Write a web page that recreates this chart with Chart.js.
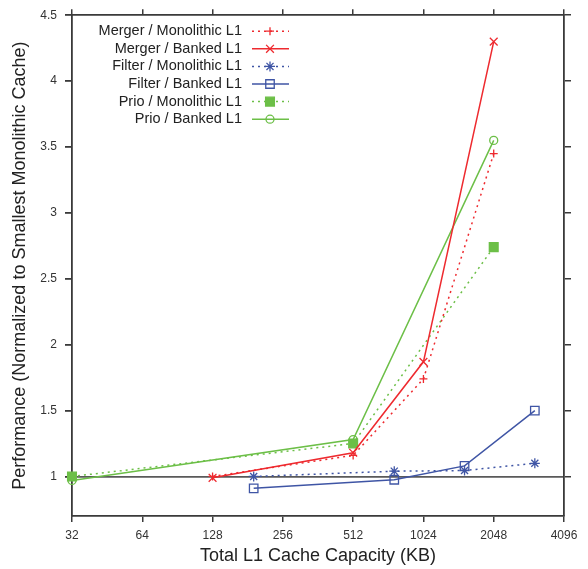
<!DOCTYPE html>
<html><head><meta charset="utf-8">
<script src="https://cdn.jsdelivr.net/npm/chart.js@4/dist/chart.umd.min.js"></script>
<style>html,body{margin:0;padding:0;background:#fff}#wrap{width:588px;height:569px;position:relative}</style>
</head><body><div id="wrap"><canvas id="c"></canvas></div>
<script>
const xTicks = [32, 64, 128, 256, 512, 1024, 2048, 4096];
const yTicks = [1, 1.5, 2, 2.5, 3, 3.5, 4, 4.5];
const seriesNames = ['Merger / Monolithic L1', 'Merger / Banked L1', 'Filter / Monolithic L1', 'Filter / Banked L1', 'Prio / Monolithic L1', 'Prio / Banked L1'];
const mergerMonoX = [128, 512, 1024, 2048];
const mergerMonoY = [1.00, 1.16, 1.74, 3.45];
const mergerBankedX = [128, 512, 1024, 2048];
const mergerBankedY = [0.99, 1.18, 1.87, 4.30];
const filterMonoX = [192, 768, 1536, 3072];
const filterMonoY = [1.00, 1.04, 1.045, 1.10];
const filterBankedX = [192, 768, 1536, 3072];
const filterBankedY = [0.91, 0.975, 1.08, 1.50];
const prioMonoX = [32, 512, 2048];
const prioMonoY = [1.00, 1.25, 2.74];
const prioBankedX = [32, 512, 2048];
const prioBankedY = [0.97, 1.28, 3.55];

const RED = '#ee2a2f', BLUE = '#3f55a5', GREEN = '#6cbf47';
const FRAME = '#3a3a3a';
const FONT = '"Liberation Sans", Arial, Helvetica, sans-serif';

function pts(xs, ys) { return xs.map((x, i) => ({ x: x, y: ys[i] })); }

const styles = [
  { c: RED, dash: [2, 4], ps: 'cross', r: 4, bg: RED },
  { c: RED, dash: [], ps: 'crossRot', r: 5.5, bg: RED },
  { c: BLUE, dash: [2, 4], ps: 'star', r: 5, bg: BLUE },
  { c: BLUE, dash: [], ps: 'rect', r: 6, bg: 'rgba(0,0,0,0)' },
  { c: GREEN, dash: [2, 4], ps: 'rect', r: 6.2, bg: GREEN },
  { c: GREEN, dash: [], ps: 'circle', r: 4, bg: 'rgba(0,0,0,0)' }
];
const allData = [
  pts(mergerMonoX, mergerMonoY), pts(mergerBankedX, mergerBankedY),
  pts(filterMonoX, filterMonoY), pts(filterBankedX, filterBankedY),
  pts(prioMonoX, prioMonoY), pts(prioBankedX, prioBankedY)
];
const datasets = seriesNames.map((n, i) => ({
  label: n, data: allData[i],
  borderColor: styles[i].c, backgroundColor: styles[i].bg,
  borderWidth: 1.5, borderDash: styles[i].dash,
  pointStyle: styles[i].ps, pointRadius: styles[i].r, pointHoverRadius: styles[i].r,
  pointBorderColor: styles[i].c, pointBackgroundColor: styles[i].bg, pointBorderWidth: 1.3,
  tension: 0, fill: false, clip: false
}));

const legendPlugin = {
  id: 'insideLegend',
  afterDraw(chart) {
    const ctx = chart.ctx;
    const a = chart.chartArea;
    const textRight = a.left + 170, lineL = a.left + 180, lineR = a.left + 217, mk = a.left + 198;
    ctx.save();
    ctx.font = '14.5px ' + FONT;
    ctx.textAlign = 'right';
    ctx.textBaseline = 'middle';
    chart.data.datasets.forEach((ds, i) => {
      const y = a.top + 16 + i * 17.6;
      ctx.fillStyle = '#222';
      ctx.fillText(ds.label, textRight, y);
      ctx.strokeStyle = ds.borderColor;
      ctx.lineWidth = 1.5;
      ctx.setLineDash(ds.borderDash);
      ctx.beginPath(); ctx.moveTo(lineL, y); ctx.lineTo(lineR, y); ctx.stroke();
      ctx.setLineDash([]);
      ctx.fillStyle = ds.pointBackgroundColor;
      ctx.lineWidth = ds.pointBorderWidth;
      Chart.helpers.drawPoint(ctx, { pointStyle: ds.pointStyle, rotation: 0, radius: ds.pointRadius, borderWidth: ds.pointBorderWidth }, mk, y);
    });
    ctx.restore();
  }
};

const setX = s => { s.ticks = xTicks.map(v => ({ value: v })); };
const setY = s => { s.ticks = yTicks.map(v => ({ value: v })); };
const gridBase = { drawOnChartArea: false, color: FRAME, tickColor: FRAME, lineWidth: 1.5, tickLength: 7 };
const borderBase = { display: true, color: FRAME, width: 1.8 };

new Chart(document.getElementById('c'), {
  type: 'line',
  data: { datasets: datasets },
  plugins: [legendPlugin],
  options: {
    responsive: true, maintainAspectRatio: false, animation: false,
    layout: { padding: 0 },
    plugins: { legend: { display: false }, tooltip: { enabled: false } },
    scales: {
      x: {
        type: 'logarithmic', position: 'bottom', min: 32, max: 4096,
        afterBuildTicks: setX,
        afterFit: s => { s.height = 53; },
        ticks: { autoSkip: false, maxRotation: 0, padding: 6, color: '#333', font: { family: FONT, size: 12 }, callback: v => String(v) },
        grid: Object.assign({}, gridBase, { tickLength: 6 }),
        border: borderBase,
        title: { display: true, text: 'Total L1 Cache Capacity (KB)', color: '#222', font: { family: FONT, size: 18 }, padding: { top: 0, bottom: 2 } }
      },
      x2: {
        type: 'logarithmic', position: 'top', min: 32, max: 4096,
        afterBuildTicks: setX,
        afterFit: s => { s.height = 13; },
        ticks: { display: false },
        grid: Object.assign({}, gridBase, { tickLength: 6 }),
        border: borderBase
      },
      y: {
        type: 'linear', position: 'left', min: 0.7, max: 4.5,
        afterBuildTicks: setY,
        afterFit: s => { s.width = 72; },
        ticks: { padding: 8, color: '#333', font: { family: FONT, size: 12 }, callback: v => String(v) },
        grid: { drawOnChartArea: true, color: c => (c.tick && c.tick.value === 1) ? '#5a5a5a' : 'rgba(0,0,0,0)', tickColor: FRAME, lineWidth: 1.8, tickLength: 7 },
        border: borderBase,
        title: { display: true, text: 'Performance (Normalized to Smallest Monolithic Cache)', color: '#222', font: { family: FONT, size: 18 }, padding: { top: 9, bottom: 0 } }
      },
      y2: {
        type: 'linear', position: 'right', min: 0.7, max: 4.5,
        afterBuildTicks: setY,
        afterFit: s => { s.width = 24; },
        ticks: { display: false },
        grid: gridBase,
        border: borderBase
      }
    }
  }
});
</script>
</body></html>
